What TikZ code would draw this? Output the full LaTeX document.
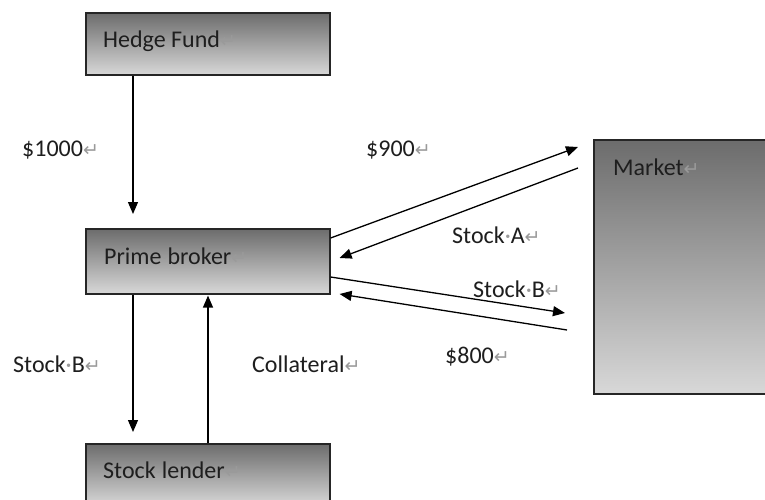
\documentclass[tikz,border=0pt]{standalone}
\usepackage{fontspec}
\setmainfont{Carlito}
\newfontfamily\djv{DejaVu Sans}
\usetikzlibrary{arrows.meta}
\definecolor{txt}{HTML}{1E1E1E}
\definecolor{markgray}{HTML}{9A9A9A}
\definecolor{boxtop}{HTML}{6C6C6C}
\definecolor{boxbot}{HTML}{D8D8D8}
\definecolor{edgegray}{HTML}{262626}
\newcommand\retm{{\djv\fontsize{19}{19}\selectfont\textcolor{markgray}{↵}}}
\newcommand\spm{\textcolor{markgray}{·}}
\begin{document}
\begin{tikzpicture}[x=1pt,y=-1pt,
 box/.style={draw=edgegray, line width=1.6pt, top color=boxtop, bottom color=boxbot,
   minimum width=244pt, minimum height=62pt, inner sep=0pt, anchor=north west},
 lbl/.style={anchor=base west, inner sep=0pt, text=txt, font=\fontsize{24}{28}\selectfont},
 arr/.style={draw=black, line width=1.3pt, -{Triangle[length=12pt,width=10pt]}}]
\clip (0,0) rectangle (765,500);
\fill[white] (0,0) rectangle (765,500);
% boxes
\node[box] (hf) at (85,12) {};
\node[box, minimum height=65pt] (pb) at (85,228) {};
\node[box] (sl) at (85,443) {};
\node[box, minimum width=200pt, minimum height=254pt] (mk) at (593,139) {};
% box texts
\node[lbl] (thf) at (103,48) {Hedge Fund\retm};
\node[lbl] (tpb) at (104,264) {Prime\spm broker\retm};
\node[lbl] (tsl) at (103,478) {Stock\spm lender\retm};
\node[lbl] (tmk) at (613,175) {Market\retm};
% connector labels
\node[lbl] (l1000) at (22,157) {\$1000\retm};
\node[lbl] (l900) at (366,157) {\$900\retm};
\node[lbl] (lsa) at (452,243) {Stock\spm A\retm};
\node[lbl] (lsbr) at (473,297) {Stock\spm B\retm};
\node[lbl] (l800) at (445,363) {\$800\retm};
\node[lbl] (lsbl) at (13,372) {Stock\spm B\retm};
\node[lbl] (lcol) at (252,372) {Collateral\retm};
% connectors
\draw[arr, shorten >=14pt] ([xshift=48pt]hf.south west) -- ([xshift=48pt]pb.north west);
\draw[arr, shorten >=11pt] ([xshift=48pt]pb.south west) -- ([xshift=48pt]sl.north west);
\draw[arr, shorten >=1pt] ([xshift=123pt]sl.north west) -- ([xshift=123pt]pb.south west);
\draw[arr] ([yshift=-10pt]pb.north east) -- ([xshift=-15pt,yshift=-8pt]mk.north west);
\draw[arr] ([xshift=-15pt,yshift=-29pt]mk.north west) -- ([xshift=9pt,yshift=-30pt]pb.north east);
\draw[arr] ([yshift=-49pt]pb.north east) -- ([xshift=-28pt,yshift=-174pt]mk.north west);
\draw[arr] ([xshift=-26pt,yshift=-191pt]mk.north west) -- ([xshift=9pt,yshift=-66pt]pb.north east);
\end{tikzpicture}
\end{document}
